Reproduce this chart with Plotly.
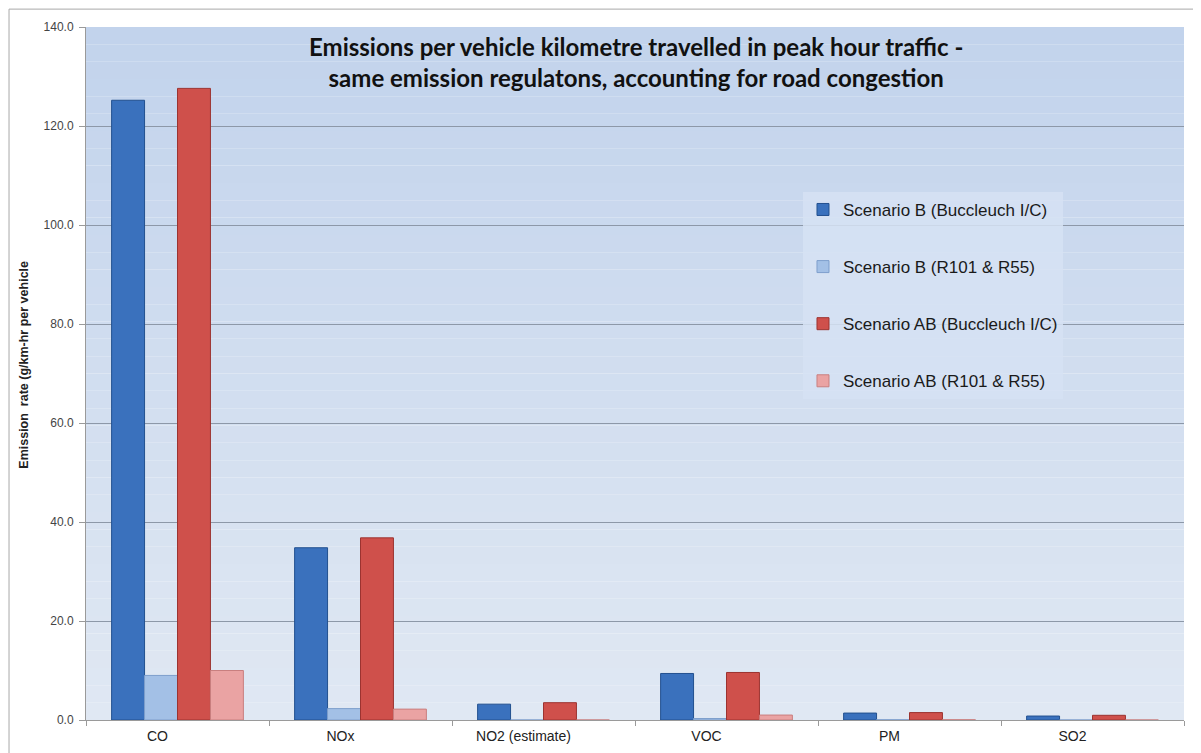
import plotly.graph_objects as go

categories = ["CO", "NOx", "NO2 (estimate)", "VOC", "PM", "SO2"]
series_names = [
    "Scenario B (Buccleuch I/C)",
    "Scenario B (R101 & R55)",
    "Scenario AB (Buccleuch I/C)",
    "Scenario AB (R101 & R55)",
]
b_buccleuch = [125.2, 34.8, 3.2, 9.4, 1.4, 0.8]
b_r101 = [9.0, 2.3, 0.0, 0.3, 0.05, 0.0]
ab_buccleuch = [127.6, 36.8, 3.5, 9.6, 1.5, 0.95]
ab_r101 = [10.0, 2.2, 0.0, 1.0, 0.05, 0.0]
y_ticks = [0, 20, 40, 60, 80, 100, 120, 140]
y_tick_labels = ["0.0", "20.0", "40.0", "60.0", "80.0", "100.0", "120.0", "140.0"]

series_values = [b_buccleuch, b_r101, ab_buccleuch, ab_r101]
fills = ["#3a71bd", "#a3c0e6", "#cf504b", "#eaa3a3"]
edges = ["#22508f", "#7e9fcc", "#9c3330", "#c97f7f"]

fig = go.Figure()
for name, vals, fc, ec in zip(series_names, series_values, fills, edges):
    fig.add_trace(go.Bar(
        name=name, x=categories, y=vals,
        marker=dict(color=fc, line=dict(color=ec, width=1)),
        legendgroup=name,
    ))

# plot-area gradient background
shapes = []
n = 40
top = (0xc2, 0xd3, 0xec)
bot = (0xe0, 0xe8, 0xf3)
for i in range(n):
    t = i / (n - 1)
    c = tuple(round(bot[k] + (top[k] - bot[k]) * t) for k in range(3))
    shapes.append(dict(type="rect", xref="paper", yref="paper",
                       x0=0, x1=1, y0=i / n, y1=(i + 1) / n,
                       fillcolor="rgb(%d,%d,%d)" % c, line=dict(width=0),
                       layer="below"))
# outer chart frame
shapes.append(dict(type="rect", xref="paper", yref="paper",
                   x0=-0.0701, x1=1.0105, y0=-0.05, y1=1.0258,
                   line=dict(color="#a8a8a8", width=1), fillcolor="rgba(0,0,0,0)",
                   layer="above"))

fig.update_layout(
    width=1201, height=753,
    margin=dict(l=78, r=25, t=15, b=41),
    paper_bgcolor="white",
    plot_bgcolor="rgba(0,0,0,0)",
    barmode="group", bargap=0.28, bargroupgap=0.0,
    font=dict(family="Liberation Sans, Arial, sans-serif", color="#222"),
    shapes=shapes,
    showlegend=True,
    legend=dict(
        x=0.653, y=0.762, xanchor="left", yanchor="top",
        bgcolor="rgba(214,226,243,0.85)", borderwidth=0,
        font=dict(size=17, color="#1a1a1a"),
        tracegroupgap=32, itemwidth=30,
        entrywidth=260,
    ),
    annotations=[
        dict(text="<b>Emissions per vehicle kilometre travelled in peak hour traffic -<br>same emission regulatons, accounting for road congestion</b>",
             xref="paper", yref="paper", x=0.501, y=0.996, xanchor="center", yanchor="top",
             showarrow=False, align="center",
             font=dict(family="Lato, Open Sans, sans-serif", size=24, color="#111")),
        dict(text="<b>Emission  rate (g/km-hr per vehicle</b>",
             xref="paper", yref="paper", x=-0.056, y=0.512, xanchor="center", yanchor="middle",
             textangle=-90, showarrow=False,
             font=dict(size=12.5, color="#222")),
    ],
)

fig.update_xaxes(
    showgrid=False, showline=True, linecolor="#9a9a9a", linewidth=1,
    ticks="outside", tickson="boundaries", ticklen=5, tickcolor="#9a9a9a",
    tickfont=dict(size=14, color="#222"), ticklabelshift=-20, ticklabelstandoff=3,
)
fig.update_yaxes(
    range=[0, 140], tickvals=y_ticks, ticktext=y_tick_labels,
    showgrid=True, gridcolor="#8d98a8", gridwidth=1,
    showline=True, linecolor="#9a9a9a", linewidth=1,
    ticks="outside", ticklen=6, tickcolor="#9a9a9a",
    tickfont=dict(size=12, color="#444"), zeroline=False, ticklabelstandoff=3,
)

fig.write_html("out.html")
